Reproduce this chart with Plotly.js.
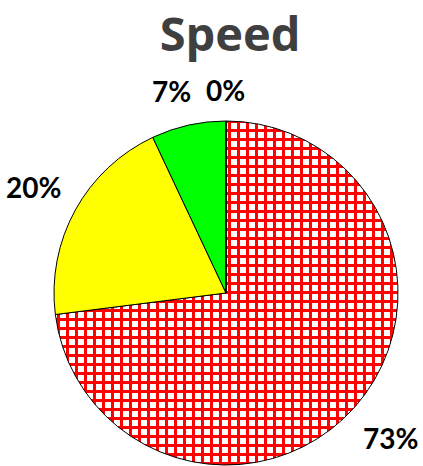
<!DOCTYPE html>
<html>
<head>
<meta charset="utf-8">
<script src="https://cdn.plot.ly/plotly-3.0.1.min.js"></script>
<style>
  html, body { margin: 0; padding: 0; background: #fff; }
  #chart { width: 423px; height: 466px; }
</style>
</head>
<body>
<div id="chart"></div>
<script>
// Speed share per category
const labels = ["Fast", "Medium", "Slow", "Stopped"];
const values = [73, 20, 7, 0];
const sliceColors = ["#ffffff", "#ffff00", "#00ff00", "#0000ff"];
const sliceShapes = ["+", "", "", ""];

// pie sits in a square plot area, labels go just outside the rim (Excel style)
const plotSize = 344;
const rimGap = 17;
const labelFont = 28;
const labelPad = 17;
const total = values.reduce((a, b) => a + b, 0);

let cum = 0;
const spots = values.map(function (v) {
  const mid = (cum + v / 2) / total * 2 * Math.PI;
  cum += v;
  const pct = Math.round(v / total * 100) + "%";
  const ux = Math.sin(mid), uy = Math.cos(mid);
  const w = pct.length * 18.5, h = labelFont;
  const dist = plotSize / 2 + rimGap + Math.abs(ux) * w / 2 + Math.abs(uy) * h / 2;
  return { text: pct, w: w, h: h, ux: ux, px: ux * dist, py: uy * dist };
});

// push a label sideways when it runs into the next one
for (let i = 0; i < spots.length - 1; i++) {
  const a = spots[i], b = spots[i + 1];
  const need = (a.w + b.w) / 2 + labelPad;
  if (Math.abs(a.py - b.py) < (a.h + b.h) / 2 && Math.abs(a.px - b.px) < need) {
    a.px = b.px + (a.ux < 0 ? -need : need);
  }
}

const annotations = spots.map(function (s) {
  return {
    xref: "paper", yref: "paper",
    x: 0.5 + s.px / plotSize,
    y: 0.5 + s.py / plotSize,
    xanchor: "center", yanchor: "middle",
    text: "<b>" + s.text + "</b>",
    showarrow: false,
    font: { family: "Lato, sans-serif", size: labelFont, color: "#000" }
  };
});

var data = [{
  type: "pie",
  labels: labels,
  values: values,
  sort: false,
  direction: "clockwise",
  rotation: 0,
  textinfo: "none",
  hoverinfo: "label+percent",
  marker: {
    colors: sliceColors,
    line: { color: "#000", width: 1 },
    pattern: {
      shape: sliceShapes,
      fgcolor: "#ff0000",
      bgcolor: "#ffffff",
      fillmode: "replace",
      size: 9,
      solidity: 0.55
    }
  }
}];

var layout = {
  width: 423,
  height: 466,
  showlegend: false,
  paper_bgcolor: "#fff",
  margin: { l: 54, r: 25, t: 121, b: 1 },
  annotations: annotations,
  title: {
    text: "<b>Speed</b>",
    font: { family: "Open Sans, sans-serif", size: 47, color: "#3f3f3f" },
    x: 0.544,
    xanchor: "center",
    y: 0.926,
    yanchor: "middle"
  }
};

Plotly.newPlot("chart", data, layout, { displayModeBar: false });
</script>
</body>
</html>
